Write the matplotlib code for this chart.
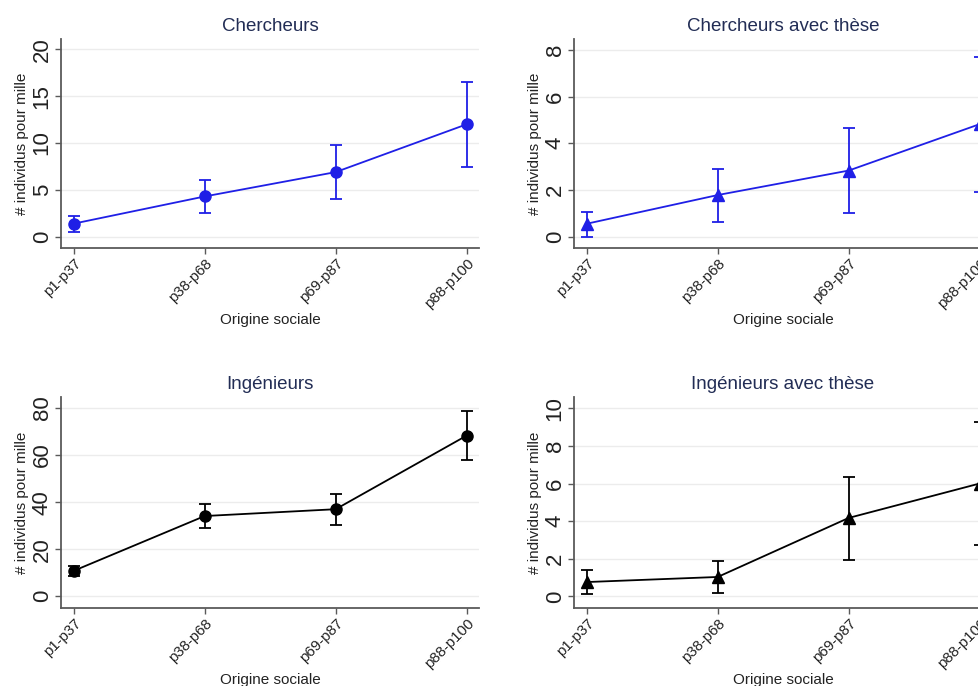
import matplotlib
matplotlib.use("Agg")
import matplotlib.pyplot as plt
import numpy as np

plt.rcParams['font.family'] = ['Liberation Sans', 'DejaVu Sans']

categories = ["p1-p37", "p38-p68", "p69-p87", "p88-p100"]

# Point estimates with lower / upper bounds of the confidence intervals
chercheurs = [1.4, 4.3, 6.9, 12.0]
chercheurs_lo = [0.5, 2.5, 4.0, 7.4]
chercheurs_hi = [2.2, 6.1, 9.8, 16.5]

chercheurs_these = [0.55, 1.78, 2.83, 4.82]
chercheurs_these_lo = [0.0, 0.64, 1.0, 1.9]
chercheurs_these_hi = [1.07, 2.9, 4.67, 7.71]

ingenieurs = [10.8, 34.1, 37.0, 68.3]
ingenieurs_lo = [8.5, 28.9, 30.4, 57.8]
ingenieurs_hi = [12.8, 39.1, 43.5, 78.9]

ingenieurs_these = [0.76, 1.03, 4.17, 6.0]
ingenieurs_these_lo = [0.14, 0.18, 1.92, 2.75]
ingenieurs_these_hi = [1.38, 1.88, 6.32, 9.25]

titles = ["Chercheurs", "Chercheurs avec thèse", "Ingénieurs", "Ingénieurs avec thèse"]
yticks_list = [[0, 5, 10, 15, 20], [0, 2, 4, 6, 8], [0, 20, 40, 60, 80], [0, 2, 4, 6, 8, 10]]
ylims = [(-1.2, 21.1), (-0.49, 8.47), (-5.0, 84.7), (-0.62, 10.6)]

BLUE = "#1f1fe6"
BLACK = "#000000"
TITLE_COLOR = "#222d55"
SPINE = "#5a5a5a"

fig = plt.figure(figsize=(9.79, 6.86), dpi=100)
W, H = 979.0, 686.0

# axes boxes in pixels: left, top, right, bottom
boxes = [(61, 39, 479, 248), (574, 39, 992, 248),
         (61, 397, 479, 608), (574, 397, 992, 608)]

series = [
    (chercheurs, chercheurs_lo, chercheurs_hi, BLUE, "o"),
    (chercheurs_these, chercheurs_these_lo, chercheurs_these_hi, BLUE, "^"),
    (ingenieurs, ingenieurs_lo, ingenieurs_hi, BLACK, "o"),
    (ingenieurs_these, ingenieurs_these_lo, ingenieurs_these_hi, BLACK, "^"),
]

x = np.arange(len(categories))

for i, ((l, t, r, b), (vals, lo, hi, col, mk)) in enumerate(zip(boxes, series)):
    ax = fig.add_axes([l / W, 1 - b / H, (r - l) / W, (b - t) / H])
    vals = np.array(vals)
    yerr = np.vstack([vals - np.array(lo), np.array(hi) - vals])
    ax.errorbar(x, vals, yerr=yerr, color=col, marker=mk, markersize=8,
                linewidth=1.3, elinewidth=1.3, capsize=4, capthick=1.3, zorder=3)
    ax.set_xlim(-0.097, 3.094)
    ax.set_ylim(*ylims[i])
    ax.set_yticks(yticks_list[i])
    ax.set_xticks(x)
    ax.set_xticklabels(categories, rotation=45, ha="right", va="top",
                       rotation_mode="anchor", fontsize=10.8, color="#222222")
    for lab in ax.get_yticklabels():
        lab.set_rotation(90)
        lab.set_va("center")
        lab.set_fontsize(16)
        lab.set_color("#222222")
    ax.yaxis.grid(True, color="#ececec", linewidth=1.0, zorder=0)
    ax.set_axisbelow(True)
    for s in ["top", "right"]:
        ax.spines[s].set_visible(False)
    for s in ["left", "bottom"]:
        ax.spines[s].set_color(SPINE)
        ax.spines[s].set_linewidth(1.3)
    ax.tick_params(axis="both", direction="out", length=4, width=1.0, color=SPINE)
    ax.tick_params(axis="y", pad=2)
    ax.tick_params(axis="x", pad=2)
    ax.set_title(titles[i], fontsize=13.5, color=TITLE_COLOR, pad=6)
    ax.set_xlabel("Origine sociale", fontsize=11, color="#222222", labelpad=1)
    ax.set_ylabel("# individus pour mille", fontsize=11, color="#222222", labelpad=2)

fig.savefig("out.png", dpi=100)
